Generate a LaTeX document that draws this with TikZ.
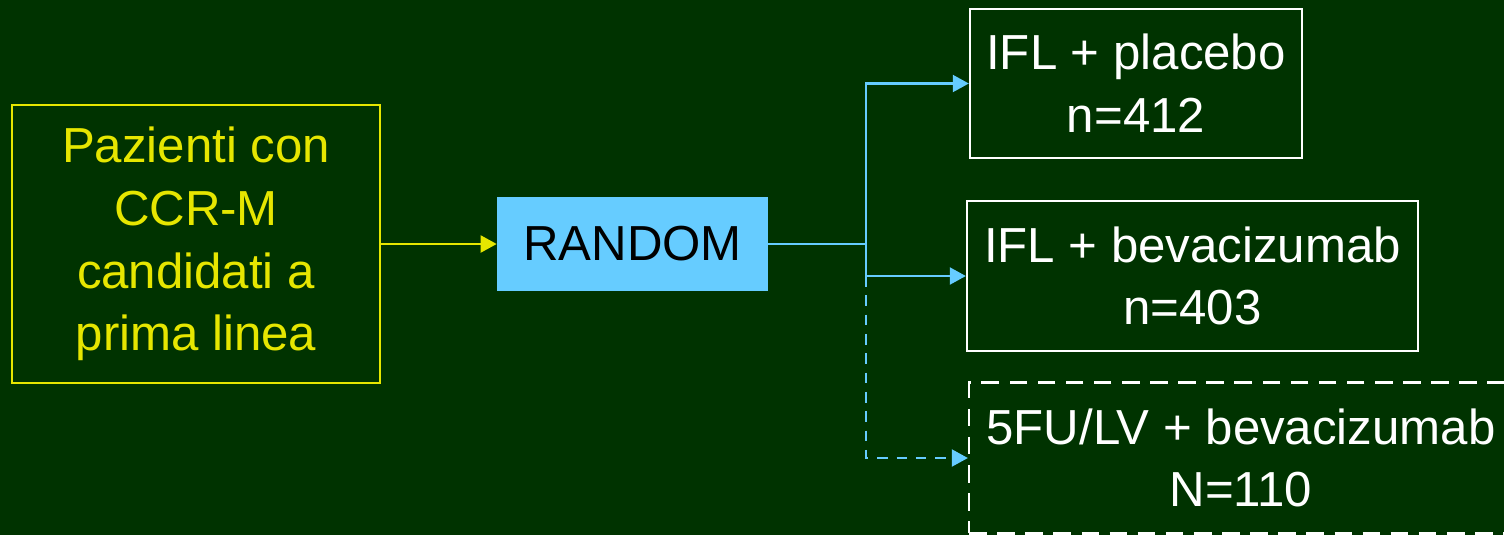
\documentclass[tikz,border=0pt]{standalone}
\usepackage{fontspec}
\setmainfont{Liberation Sans}
\usetikzlibrary{arrows.meta,positioning}
\usepackage{xcolor}
\definecolor{BgGreen}{HTML}{003300}
\definecolor{PtYellow}{HTML}{E6E600}
\definecolor{RandBlue}{HTML}{66CCFF}

\tikzset{
  armbox/.style={draw=white,line width=1.4pt,text=white,align=center,font=\fontsize{28}{35.7}\selectfont},
  link/.style={draw=RandBlue,line width=1.2pt,-{Triangle[length=0.32cm,width=0.34cm]}}
}

\begin{document}
\begin{tikzpicture}[x=0.02cm,y=-0.02cm]
  \fill[BgGreen] (0,0) rectangle (1504,535);
  \useasboundingbox (0,0) rectangle (1504,535);
  \node[draw=PtYellow,line width=1pt,text=PtYellow,align=center,minimum width=7.36cm,minimum height=5.56cm,
        font=\fontsize{28}{35.7}\selectfont] (pazienti) at (196,244) {Pazienti con\\CCR-M\\candidati a\\prima linea};
  \node[fill=RandBlue,text=black,minimum width=5.42cm,minimum height=1.88cm,
        font=\fontsize{28}{35.7}\selectfont] (random) at (632.5,244) {RANDOM};
  \node[armbox,minimum width=6.64cm,minimum height=2.98cm] (placebo) at (1136,83.5) {IFL + placebo\\n=412};
  \node[armbox,minimum width=9.02cm,minimum height=3cm] (bev) at (1192.5,276) {IFL + bevacizumab\\n=403};
  \node[armbox,dash pattern=on 10pt off 6pt,minimum width=10.88cm,minimum height=3.02cm] (fubev) at (1241,458) {5FU/LV + bevacizumab\\N=110};
  \coordinate (split) at (866,244);
  \draw[draw=PtYellow,line width=1.2pt,-{Triangle[length=0.32cm,width=0.34cm]}] (pazienti.east) -- (random.west);
  \draw[draw=RandBlue,line width=1.2pt] (random.east) -- (split);
  \draw[link] (split) |- (placebo.west);
  \draw[link] (split) |- (bev.west);
  \draw[link,dash pattern=on 6pt off 5pt] (split |- bev.west) |- (fubev.west);
\end{tikzpicture}
\end{document}
